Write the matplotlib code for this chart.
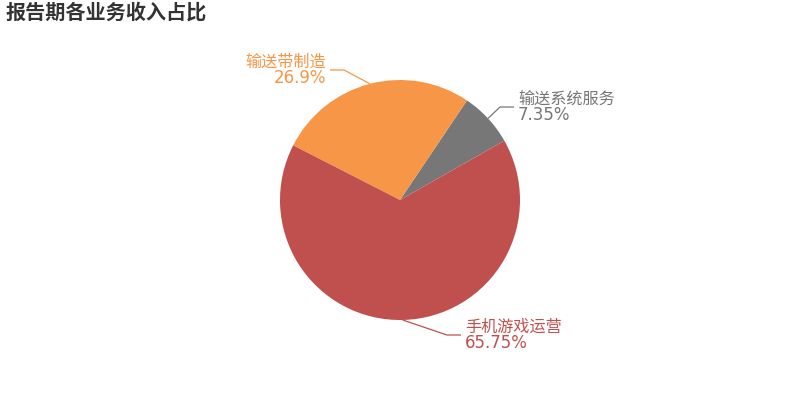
import matplotlib
matplotlib.use("Agg")
import matplotlib.pyplot as plt
import numpy as np

plt.rcParams['font.family'] = ['DejaVu Sans', 'Noto Sans CJK SC']

title = "报告期各业务收入占比"
categories = ["输送系统服务", "输送带制造", "手机游戏运营"]
values = [7.35, 26.9, 65.75]
pct_labels = ["7.35%", "26.9%", "65.75%"]
colors = ["#777777", "#f79646", "#c0504d"]

# label layout (pixel positions of leader-line elbow, horizontal segment length)
elbows = [(500, 107), (344, 70), (447, 335)]
seg_len = 14

W, H = 800, 400
fig = plt.figure(figsize=(8, 4), dpi=100)
ax = fig.add_axes([0, 0, 1, 1])

cx, cy, R = 400, 200, 120
start = 29.6
ax.pie(values, colors=colors, startangle=start, counterclock=True,
       center=(cx, cy), radius=R, frame=True,
       wedgeprops=dict(linewidth=0))
ax.set_xlim(0, W)
ax.set_ylim(0, H)
ax.axis('off')

total = sum(values)
ang = start
for cat, v, pl, c, (ex, ey) in zip(categories, values, pct_labels, colors, elbows):
    span = v / total * 360
    mid = np.deg2rad(ang + span / 2)
    ang += span
    x0 = cx + R * np.cos(mid)
    y0 = cy + R * np.sin(mid)
    x1, y1 = ex, H - ey
    side = 1 if x1 >= x0 else -1
    x2 = x1 + side * seg_len
    ax.plot([x0, x1, x2], [y0, y1, y1], color=c, lw=0.9, solid_capstyle='butt')
    ha = 'left' if side > 0 else 'right'
    tx = x2 + side * 4
    ax.text(tx, y1 + 8, cat, color=c, fontsize=11.6, ha=ha, va='center')
    ax.text(tx, y1 - 8, pl, color=c, fontsize=12, ha=ha, va='center')

fig.text(6 / W, 1 - 13 / H, title, fontsize=14.5, fontweight='bold',
         color='#333333', ha='left', va='center')

fig.savefig("out.png", dpi=100)
